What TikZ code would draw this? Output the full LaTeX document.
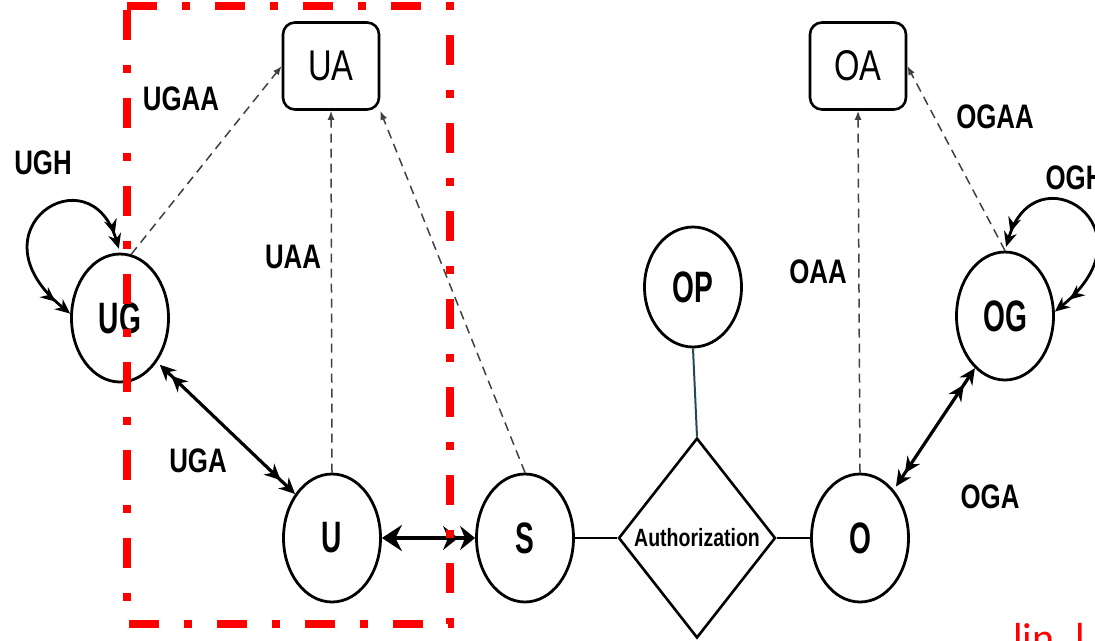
\documentclass[tikz,border=0pt]{standalone}
\usepackage{fontspec}
\setmainfont{Liberation Sans}
\newfontfamily\redfont{Carlito}
\usetikzlibrary{arrows.meta,shapes.geometric}
\definecolor{tealline}{RGB}{35,75,85}
\newcommand\sq[1]{\scalebox{0.76}[1]{#1}}
\newcommand\sqc[1]{\scalebox{0.64}[1]{#1}}
\begin{document}
\begin{tikzpicture}[x=1pt,y=-1pt,
  ent/.style={ellipse, draw, line width=2.8pt, minimum width=97pt, minimum height=128pt, inner sep=0pt, font=\fontsize{44}{44}\selectfont\bfseries},
  attr/.style={rounded corners=12pt, draw, line width=2.6pt, minimum width=96pt, minimum height=87pt, inner sep=0pt, font=\fontsize{43}{43}\selectfont},
  lbl/.style={font=\fontsize{34}{34}\selectfont\bfseries, inner sep=0pt},
  assign/.style={dash pattern=on 9pt off 6pt, line width=1.5pt, draw=black!75, -{Latex[length=9pt,width=7pt]}},
  dbl/.style={line width=3.2pt, {Stealth[length=16pt,width=15pt,sep=4pt]Stealth[length=16pt,width=15pt]}-{Stealth[length=16pt,width=15pt,sep=4pt]Stealth[length=16pt,width=15pt]}},
  loopa/.style={line width=2.8pt, {Stealth[length=15pt,width=13pt,sep=4pt]Stealth[length=15pt,width=13pt]}-{Stealth[length=15pt,width=13pt,sep=4pt]Stealth[length=15pt,width=13pt]}},
  plain/.style={line width=2.8pt}
]
\useasboundingbox (0,0) rectangle (1095,640);

% entities
\node[ent] (UG) at (120,318) {\sqc{UG}};
\node[ent] (U)  at (332,538) {\sqc{U}};
\node[ent] (S)  at (525,538) {\sqc{S}};
\node[ent] (O)  at (860,538) {\sqc{O}};
\node[ent] (OG) at (1005,316) {\sqc{OG}};
\node[ent, minimum height=120pt] (OP) at (693,287) {\sqc{OP}};
\node[attr] (UA) at (331,66) {\sq{UA}};
\node[attr] (OA) at (858,66) {\sq{OA}};
\node[diamond, draw, line width=2.6pt, minimum width=157pt, minimum height=200pt, inner sep=0pt] (AZ) at (697,538) {};
\node[font=\fontsize{25}{25}\selectfont\bfseries, inner sep=0pt] (AZt) at (AZ.center) {\scalebox{0.78}[1]{Authorization}};

% labels
\node[lbl] (lUGH)  at (43,163)  {\sq{UGH}};
\node[lbl] (lUGAA) at (181,99)  {\sq{UGAA}};
\node[lbl] (lUAA)  at (293,257) {\sq{UAA}};
\node[lbl] (lUGA)  at (198,461) {\sq{UGA}};
\node[lbl] (lOAA)  at (818,272) {\sq{OAA}};
\node[lbl] (lOGAA) at (995,117) {\sq{OGAA}};
\node[lbl] (lOGH)  at (1075,178) {\sq{OGH}};
\node[lbl] (lOGA)  at (990,497) {\sq{OGA}};

% assignments (dashed)
\draw[assign] (UG.80) -- (UA.west);
\draw[assign] (U.north) -- (UA.south);
\draw[assign] (S.north) -- (UA.south east);
\draw[assign] (O.north) -- (OA.south);
\draw[assign] (OG.north) -- (OA.east);

% relations
\draw[dbl] (UG.-50) -- (U.130);
\draw[line width=4.5pt, {Stealth[length=20pt,width=26pt]}-{Stealth[length=15pt,width=24pt,sep=2pt]Stealth[length=15pt,width=24pt]}] (U.east) -- (S.west);
\draw[dbl] (O.55) -- (OG.-120);
\draw[plain] (S.east) -- (AZ.west);
\draw[plain] (AZ.east) -- (O.west);
\draw[line width=2pt, tealline] (OP.south) -- (AZ.north);

% hierarchies (loops)
\draw[loopa] (UG.90) .. controls +(-30,-102) and +(-103,-84) .. (UG.175);
\draw[loopa] (OG.90) .. controls +(30,-102) and +(103,-84) .. (OG.5);

% red highlight box
\draw[red, line width=8pt, dash pattern=on 30pt off 25pt on 8pt off 25pt] (127,6) -- (450,6) -- (450,624) -- (127,624) -- cycle;
\node[anchor=base west, text=red, font=\redfont\fontsize{42}{42}\selectfont, inner sep=0pt] (lin) at (1013,652) {lin\_l};
\end{tikzpicture}
\end{document}
